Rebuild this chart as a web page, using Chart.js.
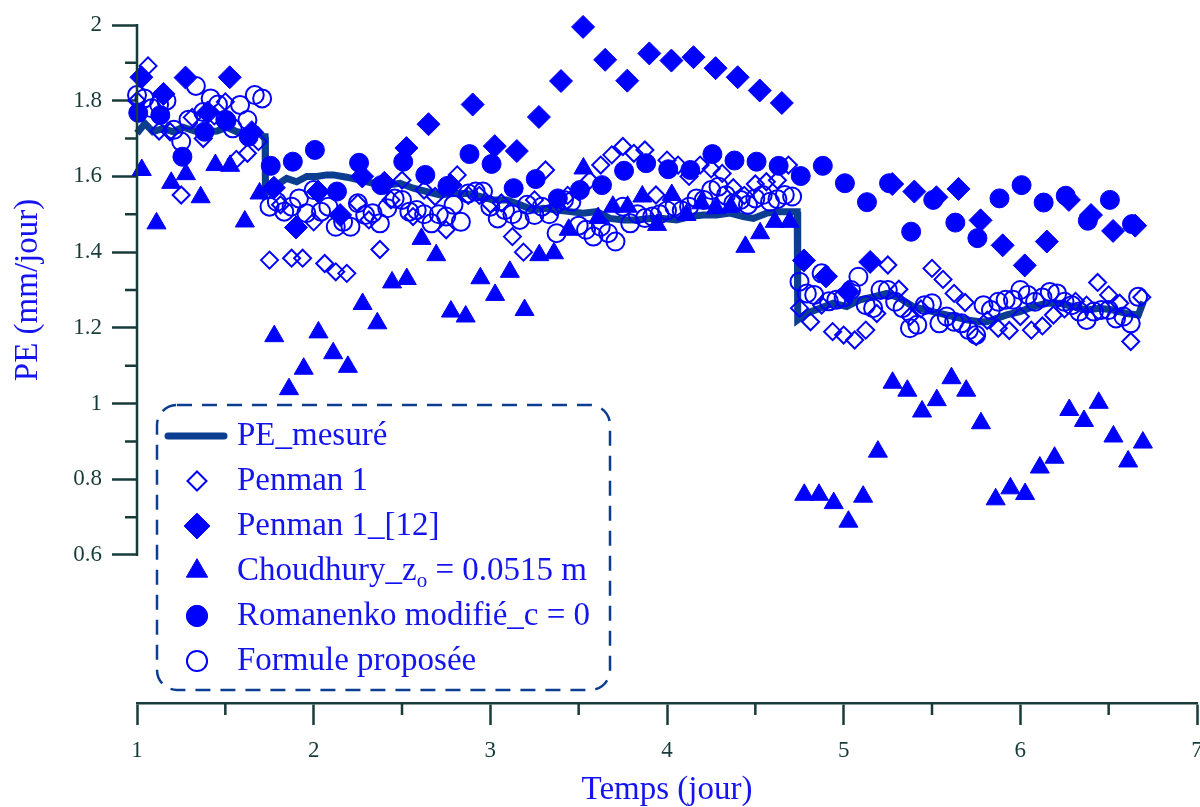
<!DOCTYPE html>
<html lang="fr">
<head>
<meta charset="utf-8">
<title>PE mesurée et formules</title>
<script src="https://cdn.jsdelivr.net/npm/chart.js@4.4.1/dist/chart.umd.min.js"></script>
<style>
    html, body { margin: 0; padding: 0; background: #ffffff; }
    #graphe { display: block; }
</style>
</head>
<body>
<canvas id="graphe" width="1200" height="807"></canvas>
<script>
// AXES
const ticksX = [1, 2, 3, 4, 5, 6, 7];
const ticksMineursX = [1.5, 2.5, 3.5, 4.5, 5.5, 6.5];
const ticksY = [0.6, 0.8, 1, 1.2, 1.4, 1.6, 1.8, 2];
const ticksMineursY = [0.7, 0.9, 1.1, 1.3, 1.5, 1.7, 1.9];

// PE MESUREE (jour, mm/jour)
const peMesureX = [1.00, 1.045, 1.09, 1.147, 1.204, 1.26, 1.328, 1.396, 1.453, 1.509, 1.566, 1.623, 1.679, 1.713, 1.725,
    1.727, 1.791, 1.847, 1.904, 1.961, 2.017, 2.074, 2.111, 2.187, 2.262, 2.338, 2.413, 2.489, 2.564, 2.64, 2.715,
    2.79, 2.866, 2.941, 3.017, 3.093, 3.168, 3.243, 3.30, 3.376, 3.451, 3.526, 3.602, 3.677, 3.753, 3.828, 3.904,
    3.979, 4.055, 4.13, 4.205, 4.281, 4.357, 4.432, 4.489, 4.564, 4.64, 4.725, 4.737,
    4.74, 4.79, 4.866, 4.941, 5.017, 5.092, 5.168, 5.244, 5.319, 5.394, 5.47, 5.545, 5.621, 5.696, 5.772, 5.81,
    5.866, 5.923, 5.998, 6.073, 6.149, 6.224, 6.30, 6.375, 6.451, 6.526, 6.602, 6.668, 6.696];
const peMesureY = [1.714, 1.74, 1.718, 1.727, 1.718, 1.73, 1.72, 1.718, 1.72, 1.73, 1.718, 1.714, 1.723, 1.705, 1.705,
    1.555, 1.577, 1.595, 1.586, 1.60, 1.60, 1.604, 1.604, 1.598, 1.59, 1.582, 1.577, 1.582, 1.569, 1.56, 1.551,
    1.555, 1.555, 1.547, 1.538, 1.538, 1.525, 1.511, 1.516, 1.511, 1.507, 1.503, 1.507, 1.489, 1.485, 1.485, 1.489,
    1.489, 1.485, 1.494, 1.498, 1.498, 1.503, 1.494, 1.489, 1.503, 1.507, 1.507, 1.507,
    1.221, 1.238, 1.252, 1.265, 1.256, 1.274, 1.282, 1.291, 1.278, 1.256, 1.247, 1.238, 1.23, 1.221, 1.216, 1.216,
    1.225, 1.234, 1.243, 1.256, 1.265, 1.265, 1.256, 1.247, 1.252, 1.247, 1.238, 1.234, 1.269];

// PENMAN 1 (pas de 1.5 h)
const penmanDebut = 1.0;
const penmanPas = 0.0625;
const penman = [1.80, 1.892, 1.72, 1.718, 1.551, 1.756, 1.70, 1.76, 1.797, 1.645,
    1.661, 1.692, 1.379, 1.525, 1.384, 1.384, 1.48, 1.37, 1.348, 1.344,
    1.529, 1.485, 1.407, 1.538, 1.59, 1.494, 1.564, 1.547, 1.459, 1.604,
    1.55, 1.55, 1.527, 1.53, 1.441, 1.40, 1.538, 1.617, 1.52, 1.55,
    1.56, 1.59, 1.63, 1.657, 1.679, 1.661, 1.67, 1.551, 1.643, 1.63,
    1.60, 1.63, 1.62, 1.608, 1.57, 1.55, 1.58, 1.586, 1.59, 1.63,
    1.252, 1.216, 1.26, 1.19, 1.181, 1.168, 1.194, 1.238, 1.366, 1.302,
    1.23, 1.25, 1.357, 1.328, 1.291, 1.267, 1.177, 1.22, 1.199, 1.193,
    1.23, 1.194, 1.205, 1.234, 1.25, 1.27, 1.26, 1.32, 1.287, 1.265,
    1.164, 1.281];

// PENMAN 1_[12] (pas de 3 h)
const penman12Debut = 1.025;
const penman12Pas = 0.125;
const penman12 = [1.862, 1.818, 1.861, 1.769, 1.862, 1.717, 1.57, 1.465, 1.56, 1.498,
    1.60, 1.583, 1.675, 1.738, 1.577, 1.79, 1.68, 1.667, 1.757, 1.852,
    1.995, 1.908, 1.853, 1.925, 1.906, 1.915, 1.886, 1.862, 1.827, 1.794,
    1.378, 1.336, 1.295, 1.374, 1.58, 1.56, 1.545, 1.567, 1.484, 1.418,
    1.365, 1.428, 1.538, 1.498, 1.456, 1.47];

// CHOUDHURY (pas de 2 h)
const choudhuryDebut = 1.027;
const choudhuryPas = 1 / 12;
const choudhury = [1.617, 1.476, 1.583, 1.606, 1.545, 1.63, 1.628, 1.481, 1.555, 1.178,
    1.038, 1.092, 1.188, 1.133, 1.097, 1.263, 1.212, 1.32, 1.329, 1.435,
    1.392, 1.243, 1.23, 1.331, 1.287, 1.348, 1.247, 1.392, 1.397, 1.459,
    1.621, 1.49, 1.52, 1.52, 1.547, 1.472, 1.551, 1.498, 1.529, 1.516,
    1.52, 1.414, 1.45, 1.48, 1.48, 0.759, 0.759, 0.737, 0.688, 0.754,
    0.873, 1.055, 1.034, 0.979, 1.009, 1.067, 1.034, 0.948, 0.747, 0.776,
    0.761, 0.831, 0.857, 0.983, 0.954, 1.002, 0.913, 0.847, 0.897];

// ROMANENKO MODIFIE (pas de 3 h)
const romanenkoDebut = 1.007;
const romanenkoPas = 0.125;
const romanenko = [1.768, 1.762, 1.652, 1.718, 1.747, 1.705, 1.628, 1.639, 1.67, 1.56,
    1.636, 1.577, 1.639, 1.604, 1.575, 1.659, 1.633, 1.569, 1.593, 1.542,
    1.564, 1.577, 1.615, 1.635, 1.619, 1.617, 1.659, 1.642, 1.639, 1.628,
    1.601, 1.628, 1.582, 1.532, 1.582, 1.454, 1.538, 1.478, 1.437, 1.542,
    1.577, 1.531, 1.549, 1.483, 1.538, 1.474];

// FORMULE PROPOSEE (pas horaire)
const formuleDebut = 1.0;
const formulePas = 1 / 24;
const formule = [1.815, 1.806, 1.78, 1.79, 1.80, 1.723, 1.692, 1.75, 1.839, 1.77,
    1.806, 1.79, 1.75, 1.727, 1.789, 1.749, 1.815, 1.806,
    1.52, 1.533, 1.507, 1.52, 1.542, 1.503, 1.564, 1.507, 1.52, 1.467, 1.48, 1.467,
    1.529, 1.498, 1.503, 1.476, 1.516, 1.542, 1.538, 1.507, 1.511, 1.50,
    1.476, 1.50, 1.494, 1.525, 1.48, 1.555, 1.56, 1.56, 1.52, 1.489,
    1.511, 1.50, 1.485, 1.525, 1.498, 1.52, 1.50, 1.45, 1.538, 1.533,
    1.47, 1.459, 1.441, 1.467, 1.45, 1.428, 1.52, 1.476, 1.50, 1.49,
    1.494, 1.50, 1.51, 1.52, 1.51, 1.52, 1.542, 1.538, 1.564, 1.573,
    1.55, 1.529, 1.538, 1.525, 1.542, 1.551, 1.533, 1.54, 1.551, 1.547,
    1.322, 1.291, 1.287, 1.344, 1.27, 1.274, 1.28, 1.30, 1.335, 1.26,
    1.252, 1.30, 1.30, 1.269, 1.252, 1.199, 1.208, 1.26, 1.265, 1.212,
    1.23, 1.216, 1.212, 1.194, 1.181, 1.26, 1.247, 1.269, 1.274, 1.274,
    1.30, 1.287, 1.269, 1.28, 1.295, 1.291, 1.269, 1.26, 1.243, 1.221,
    1.243, 1.247, 1.247, 1.225, 1.23, 1.212, 1.282];

// COULEURS
const BLEU = '#0000ff';
const MARINE = '#0b3d91';
const AXE = '#173b39';
const TEXTE = '#1414f0';
const POLICE = "'Liberation Serif', 'Times New Roman', serif";

// FUNCTION FOR BUILD POINTS FROM A REGULAR TIME STEP
    function serieReguliere(debut, pas, valeurs){
        return valeurs.map(function(v, i){
            return { x: debut + i * pas, y: v };
        });
    }
// FUNCTION FOR BUILD POINTS FROM A REGULAR TIME STEP

// FUNCTION FOR DRAW ONE LEGEND SYMBOL
    function dessinerSymbole(ctx, ds, x, y){
        ctx.save();
        if(ds.showLine){
            ctx.strokeStyle = ds.borderColor;
            ctx.lineWidth = ds.borderWidth;
            ctx.lineCap = 'round';
            ctx.beginPath();
            ctx.moveTo(x - 29, y);
            ctx.lineTo(x + 27, y);
            ctx.stroke();
            ctx.restore();
            return;
        }
        const r = ds.pointRadius * 1.12;
        ctx.beginPath();
        if(ds.pointStyle === 'rectRot'){
            ctx.moveTo(x - r, y);
            ctx.lineTo(x, y - r);
            ctx.lineTo(x + r, y);
            ctx.lineTo(x, y + r);
            ctx.closePath();
        }else if(ds.pointStyle === 'triangle'){
            ctx.moveTo(x, y - r);
            ctx.lineTo(x + r * 0.866, y + r * 0.5);
            ctx.lineTo(x - r * 0.866, y + r * 0.5);
            ctx.closePath();
        }else{
            ctx.arc(x, y, r, 0, Math.PI * 2);
        }
        if(ds.backgroundColor !== 'transparent'){
            ctx.fillStyle = ds.backgroundColor;
            ctx.fill();
        }
        ctx.strokeStyle = ds.pointBorderColor;
        ctx.lineWidth = ds.borderWidth;
        ctx.stroke();
        ctx.restore();
    }
// FUNCTION FOR DRAW ONE LEGEND SYMBOL

// PLUGIN FOR AXIS LINES, MINOR TICKS AND TITLES
    const axesPlugin = {
        id: 'axesPerso',
        afterDraw: function(chart){
            const ctx = chart.ctx;
            const sx = chart.scales.x;
            const sy = chart.scales.y;
            const gauche = chart.chartArea.left;
            const bas = chart.chartArea.bottom;
            ctx.save();
            ctx.strokeStyle = AXE;
            ctx.lineWidth = 2.5;
            ctx.beginPath();
            ctx.moveTo(gauche, sy.getPixelForValue(ticksY[0]) + 1);
            ctx.lineTo(gauche, sy.getPixelForValue(ticksY[ticksY.length - 1]) - 1);
            ticksMineursY.forEach(function(v){
                const py = sy.getPixelForValue(v);
                ctx.moveTo(gauche, py);
                ctx.lineTo(gauche - 12, py);
            });
            ticksMineursX.forEach(function(v){
                const px = sx.getPixelForValue(v);
                ctx.moveTo(px, bas);
                ctx.lineTo(px, bas + 12);
            });
            ctx.stroke();

            ctx.fillStyle = TEXTE;
            ctx.font = '33px ' + POLICE;
            ctx.textAlign = 'center';
            ctx.textBaseline = 'middle';
            ctx.fillText('Temps (jour)', (chart.chartArea.left + chart.chartArea.right) / 2, 790);
            const milieuY = (sy.getPixelForValue(ticksY[0]) + sy.getPixelForValue(ticksY[ticksY.length - 1])) / 2;
            ctx.translate(28, milieuY);
            ctx.rotate(-Math.PI / 2);
            ctx.fillText('PE (mm/jour)', 0, 0);
            ctx.restore();
        }
    };
// PLUGIN FOR AXIS LINES, MINOR TICKS AND TITLES

// PLUGIN FOR LEGEND INSIDE THE PLOT
    const legendePlugin = {
        id: 'legendePerso',
        afterDatasetsDraw: function(chart){
            const ctx = chart.ctx;
            ctx.save();
            ctx.strokeStyle = MARINE;
            ctx.lineWidth = 2.5;
            ctx.setLineDash([15, 10]);
            ctx.beginPath();
            ctx.roundRect(157, 405, 453, 285, 20);
            ctx.stroke();
            ctx.setLineDash([]);

            ctx.font = '33px ' + POLICE;
            ctx.fillStyle = TEXTE;
            ctx.textAlign = 'left';
            ctx.textBaseline = 'middle';
            chart.data.datasets.forEach(function(ds, i){
                const y = 436 + i * 45;
                dessinerSymbole(ctx, ds, 197, y);
                if(ds.indice){
                    const base = ds.label;
                    ctx.fillText(base, 237, y);
                    let x = 237 + ctx.measureText(base).width;
                    ctx.font = '21px ' + POLICE;
                    ctx.fillText(ds.indice, x, y + 10);
                    x += ctx.measureText(ds.indice).width;
                    ctx.font = '33px ' + POLICE;
                    ctx.fillText(ds.suite, x, y);
                }else{
                    ctx.fillText(ds.label, 237, y);
                }
            });
            ctx.restore();
        }
    };
// PLUGIN FOR LEGEND INSIDE THE PLOT

// VISUALIZATION
    function visualisation(){
        Chart.defaults.font.family = POLICE;
        const ctx = document.getElementById('graphe').getContext('2d');
        new Chart(ctx, {
            type: 'scatter',
            data: {
                datasets: [{
                    label: 'PE_mesuré',
                    data: peMesureX.map(function(x, i){ return { x: x, y: peMesureY[i] }; }),
                    showLine: true,
                    borderColor: MARINE,
                    backgroundColor: MARINE,
                    borderWidth: 7,
                    pointRadius: 0,
                    tension: 0,
                    order: 10
                }, {
                    label: 'Penman 1',
                    data: serieReguliere(penmanDebut, penmanPas, penman),
                    pointStyle: 'rectRot',
                    pointRadius: 8.5,
                    borderWidth: 2,
                    pointBorderColor: BLEU,
                    backgroundColor: 'transparent',
                    order: 8
                }, {
                    label: 'Penman 1_[12]',
                    data: serieReguliere(penman12Debut, penman12Pas, penman12),
                    pointStyle: 'rectRot',
                    pointRadius: 11.5,
                    borderWidth: 1,
                    pointBorderColor: BLEU,
                    backgroundColor: BLEU,
                    order: 1
                }, {
                    label: 'Choudhury_z',
                    indice: 'o',
                    suite: ' = 0.0515 m',
                    data: serieReguliere(choudhuryDebut, choudhuryPas, choudhury),
                    pointStyle: 'triangle',
                    pointRadius: 11,
                    borderWidth: 1,
                    pointBorderColor: BLEU,
                    backgroundColor: BLEU,
                    order: 3
                }, {
                    label: 'Romanenko modifié_c = 0',
                    data: serieReguliere(romanenkoDebut, romanenkoPas, romanenko),
                    pointStyle: 'circle',
                    pointRadius: 9.5,
                    borderWidth: 1,
                    pointBorderColor: BLEU,
                    backgroundColor: BLEU,
                    order: 2
                }, {
                    label: 'Formule proposée',
                    data: serieReguliere(formuleDebut, formulePas, formule),
                    pointStyle: 'circle',
                    pointRadius: 9,
                    borderWidth: 2,
                    pointBorderColor: BLEU,
                    backgroundColor: 'transparent',
                    order: 9
                }]
            },
            options: {
                responsive: false,
                animation: false,
                devicePixelRatio: 1,
                events: [],
                clip: false,
                layout: { autoPadding: false, padding: { top: 25, right: 3, left: 0, bottom: 0 } },
                plugins: {
                    legend: { display: false },
                    tooltip: { enabled: false }
                },
                scales: {
                    x: {
                        type: 'linear',
                        min: 1,
                        max: 7,
                        afterBuildTicks: function(scale){
                            scale.ticks = ticksX.map(function(v){ return { value: v }; });
                        },
                        afterFit: function(scale){
                            scale.height = 104;
                            scale.paddingLeft = 0;
                            scale.paddingRight = 0;
                        },
                        border: { display: true, color: AXE, width: 2.5 },
                        grid: { drawOnChartArea: false, drawTicks: true, tickLength: 22, tickColor: AXE, tickWidth: 2.5 },
                        ticks: { color: AXE, font: { size: 23, family: POLICE }, padding: 12, maxRotation: 0 }
                    },
                    y: {
                        type: 'linear',
                        min: 0.209,
                        max: 2,
                        afterBuildTicks: function(scale){
                            scale.ticks = ticksY.map(function(v){ return { value: v }; });
                        },
                        afterFit: function(scale){
                            scale.width = 137;
                            scale.paddingTop = 0;
                            scale.paddingBottom = 0;
                        },
                        border: { display: false },
                        grid: { drawOnChartArea: false, drawTicks: true, tickLength: 25, tickColor: AXE, tickWidth: 2.5 },
                        ticks: {
                            color: AXE,
                            font: { size: 23, family: POLICE },
                            padding: 10,
                            callback: function(v){ return String(Math.round(v * 10) / 10); }
                        }
                    }
                }
            },
            plugins: [axesPlugin, legendePlugin]
        });
    }
// VISUALIZATION

visualisation();
</script>
</body>
</html>
